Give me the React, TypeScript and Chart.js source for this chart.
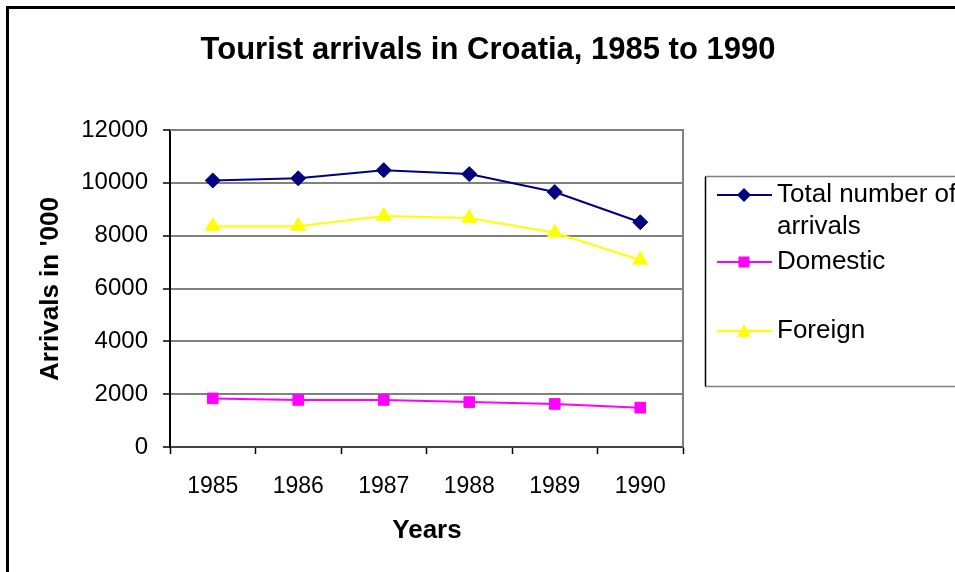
import React, { useEffect, useRef } from "react";
import { Chart, registerables } from "chart.js";

Chart.register(...registerables);

const years = ["1985", "1986", "1987", "1988", "1989", "1990"];
const totalArrivals = [10090, 10170, 10480, 10330, 9650, 8510];
const domesticArrivals = [1840, 1780, 1780, 1700, 1630, 1490];
const foreignArrivals = [8360, 8360, 8740, 8670, 8110, 7080];
const yTicks = [0, 2000, 4000, 6000, 8000, 10000, 12000];

const titleText = "Tourist arrivals in Croatia, 1985 to 1990";
const yTitleText = "Arrivals in '000";
const xTitleText = "Years";
const legendItems = [
  { lines: ["Total number of", "arrivals"], color: "#000080", style: "diamond" },
  { lines: ["Domestic"], color: "#FF00FF", style: "square" },
  { lines: ["Foreign"], color: "#FFFF00", style: "triangle" },
];

const FONT = "Arial, 'Liberation Sans', Helvetica, sans-serif";

const decorPlugin = {
  id: "decor",
  afterDraw(chart: any) {
    const ctx = chart.ctx as CanvasRenderingContext2D;
    const area = chart.chartArea;
    ctx.save();
    // outer border
    ctx.strokeStyle = "#000";
    ctx.lineWidth = 3;
    ctx.strokeRect(7.5, 7.5, 2000, 2000);

    // plot right & top frame
    ctx.strokeStyle = "#808080";
    ctx.lineWidth = 2;
    ctx.beginPath();
    ctx.moveTo(area.left, area.top);
    ctx.lineTo(area.right, area.top);
    ctx.lineTo(area.right, area.bottom);
    ctx.stroke();

    // title
    ctx.fillStyle = "#000";
    ctx.font = `bold 31px ${FONT}`;
    ctx.textAlign = "center";
    ctx.textBaseline = "middle";
    ctx.fillText(titleText, 488, 50);

    // x title
    ctx.font = `bold 26px ${FONT}`;
    ctx.fillText(xTitleText, 427, 531);

    // y title
    ctx.save();
    ctx.translate(51, 289);
    ctx.rotate(-Math.PI / 2);
    ctx.fillText(yTitleText, 0, 0);
    ctx.restore();

    // legend box
    const bx = 705.5, by = 176.5, bb = 386.5;
    ctx.lineWidth = 1.5;
    ctx.strokeStyle = "#808080";
    ctx.beginPath();
    ctx.moveTo(bx, by);
    ctx.lineTo(960, by);
    ctx.moveTo(bx, bb);
    ctx.lineTo(960, bb);
    ctx.stroke();
    ctx.strokeStyle = "#000";
    ctx.lineWidth = 1.5;
    ctx.beginPath();
    ctx.moveTo(bx, by);
    ctx.lineTo(bx, bb);
    ctx.stroke();

    const rowY = [195, 262, 331];
    ctx.font = `26px ${FONT}`;
    ctx.textAlign = "left";
    legendItems.forEach((it, i) => {
      const y = rowY[i];
      ctx.strokeStyle = it.color;
      ctx.fillStyle = it.color;
      ctx.lineWidth = 2;
      ctx.beginPath();
      ctx.moveTo(717, y);
      ctx.lineTo(772, y);
      ctx.stroke();
      const cx = 744;
      ctx.beginPath();
      if (it.style === "diamond") {
        ctx.moveTo(cx, y - 7);
        ctx.lineTo(cx + 7, y);
        ctx.lineTo(cx, y + 7);
        ctx.lineTo(cx - 7, y);
      } else if (it.style === "square") {
        ctx.rect(cx - 5.5, y - 5.5, 11, 11);
      } else {
        ctx.moveTo(cx, y - 7);
        ctx.lineTo(cx + 7, y + 6);
        ctx.lineTo(cx - 7, y + 6);
      }
      ctx.closePath();
      ctx.fill();
      ctx.fillStyle = "#000";
      it.lines.forEach((t, j) => {
        ctx.fillText(t, 777, y + j * 32);
      });
    });
    ctx.restore();
  },
};

export default function App() {
  const ref = useRef<HTMLCanvasElement | null>(null);
  useEffect(() => {
    if (!ref.current) return;
    const chart = new Chart(ref.current, {
      type: "line",
      data: {
        labels: years,
        datasets: [
          {
            label: "Total number of arrivals",
            data: totalArrivals,
            borderColor: "#000080",
            backgroundColor: "#000080",
            borderWidth: 2,
            pointStyle: "rectRot",
            pointRadius: 7.5,
            pointBorderWidth: 1,
            tension: 0,
          },
          {
            label: "Domestic",
            data: domesticArrivals,
            borderColor: "#FF00FF",
            backgroundColor: "#FF00FF",
            borderWidth: 2,
            pointStyle: "rect",
            pointRadius: 7.5,
            pointBorderWidth: 1,
            tension: 0,
          },
          {
            label: "Foreign",
            data: foreignArrivals,
            borderColor: "#FFFF00",
            backgroundColor: "#FFFF00",
            borderWidth: 2,
            pointStyle: "triangle",
            pointRadius: 8.5,
            pointBorderWidth: 1,
            tension: 0,
          },
        ],
      },
      options: {
        responsive: false,
        animation: false,
        layout: { padding: { top: 130, right: 272, left: 0, bottom: 0 } },
        plugins: {
          legend: { display: false },
          title: { display: false },
          tooltip: { enabled: false },
        },
        scales: {
          x: {
            offset: true,
            grid: {
              offset: true,
              drawOnChartArea: false,
              drawTicks: true,
              tickLength: 7,
              tickColor: "#000",
              tickWidth: 1.5,
            },
            border: { color: "#444", width: 2 },
            ticks: {
              color: "#000",
              padding: 19,
              font: { family: FONT, size: 23 },
              maxRotation: 0,
            },
            afterFit(scale: any) {
              scale.height = 125;
            },
          },
          y: {
            min: 0,
            max: 12000,
            afterBuildTicks(scale: any) {
              scale.ticks = yTicks.map((v) => ({ value: v }));
            },
            grid: {
              color: "#808080",
              lineWidth: 2,
              drawTicks: true,
              tickLength: 7,
              tickColor: "#000",
              tickWidth: 1.5,
            },
            border: { color: "#000", width: 2 },
            ticks: {
              color: "#000",
              padding: 15,
              font: { family: FONT, size: 24 },
              callback: (v: any) => String(v),
            },
            afterFit(scale: any) {
              scale.width = 170;
            },
          },
        },
      },
      plugins: [decorPlugin],
    });
    return () => chart.destroy();
  }, []);
  return (
    <div style={{ position: "fixed", left: 0, top: 0, width: 955, height: 572, background: "#fff" }}>
      <canvas ref={ref} width={955} height={572} style={{ display: "block" }} />
    </div>
  );
}
